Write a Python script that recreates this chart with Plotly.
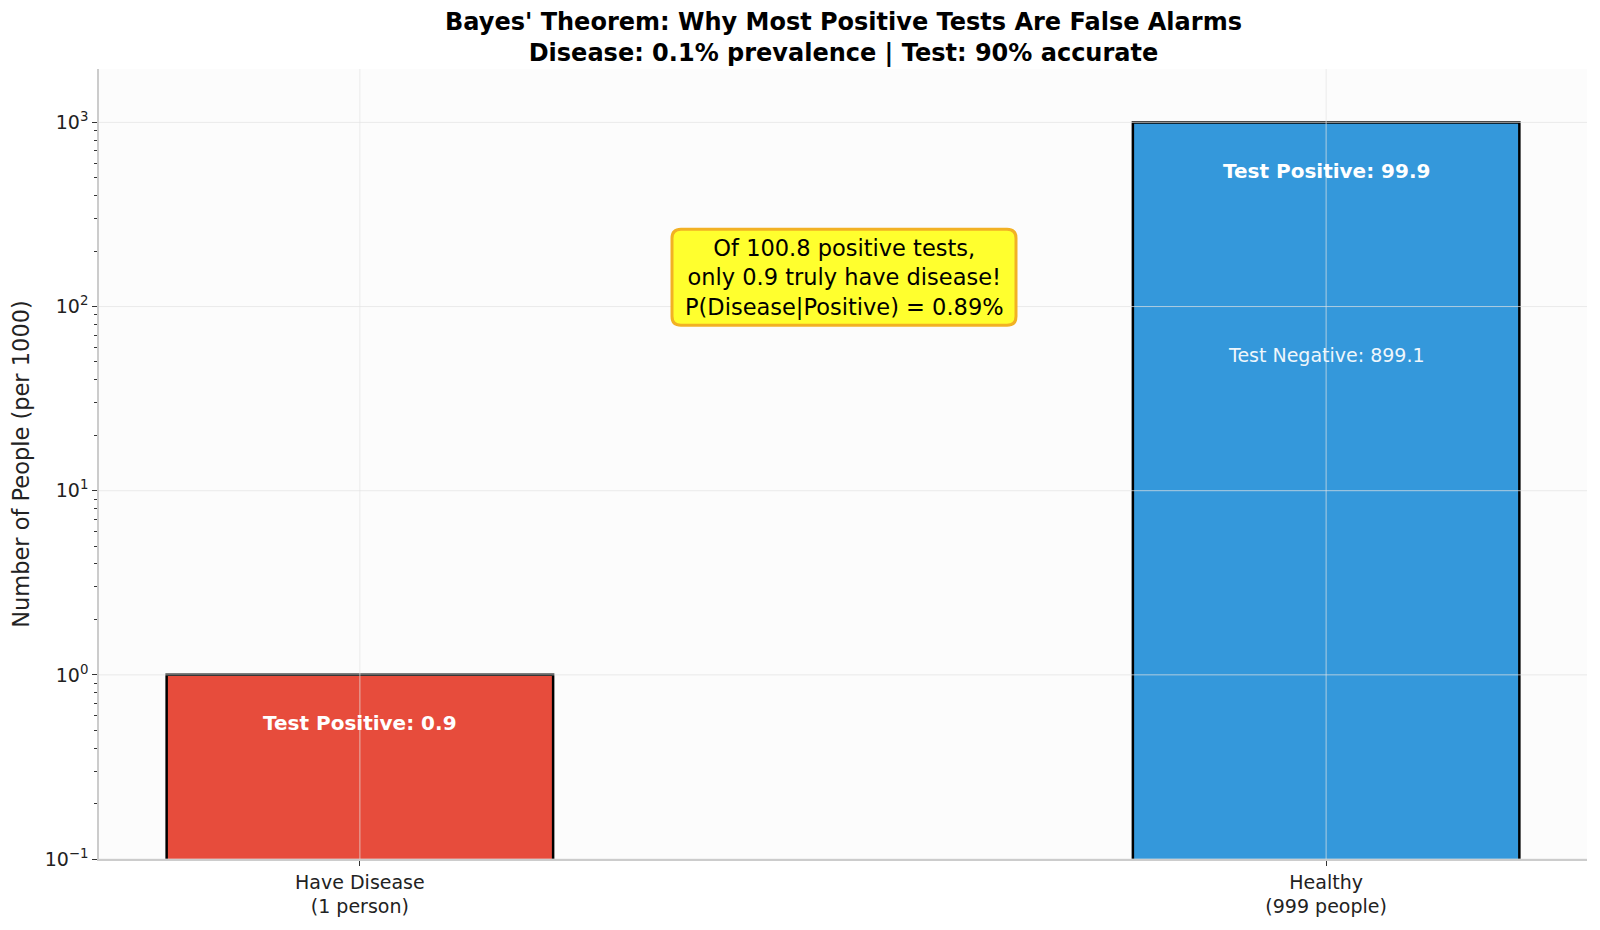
import math
import plotly.graph_objects as go

# data
categories = ["Have Disease<br>(1 person)", "Healthy<br>(999 people)"]
totals = [1, 999]
test_positive = [0.9, 99.9]
test_negative = [0.1, 899.1]
bar_colors = ["#e74c3c", "#3498db"]

ytick_vals = [0.1, 1, 10, 100, 1000]
ytick_text = ["10<sup>−1</sup>", "10<sup>0</sup>", "10<sup>1</sup>", "10<sup>2</sup>", "10<sup>3</sup>"]
minor_vals = [m * 10.0**e for e in range(-1, 3) for m in range(2, 10)] + [2000]

xs = list(range(len(categories)))
FONT = "DejaVu Sans"

fig = go.Figure()
fig.add_trace(
    go.Bar(
        x=xs,
        y=totals,
        width=0.4,
        marker=dict(color=bar_colors, line=dict(color="black", width=2.5)),
        hoverinfo="skip",
    )
)

# labels inside bars (annotation y on a log axis is given as log10)
for i, x in enumerate(xs):
    fig.add_annotation(
        x=x, y=math.log10(totals[i] / 2), xref="x", yref="y",
        text="<b>Test Positive: %s</b>" % test_positive[i],
        showarrow=False, yshift=7,
        font=dict(family=FONT, size=20, color="white"),
    )
# negative label only for healthy group
fig.add_annotation(
    x=xs[1], y=math.log10(test_positive[1] / 2), xref="x", yref="y",
    text="Test Negative: %s" % test_negative[1],
    showarrow=False, yshift=7,
    font=dict(family=FONT, size=19, color="#eef6fc"),
)

# grid drawn on top of bars like the original
grid = "rgba(226,226,226,0.7)"
for v in ytick_vals:
    fig.add_shape(type="line", xref="x domain", yref="y", x0=0, x1=1, y0=v, y1=v,
                  line=dict(color=grid, width=1), layer="above")
for x in xs:
    fig.add_shape(type="line", xref="x", yref="y domain", x0=x, x1=x, y0=0, y1=1,
                  line=dict(color=grid, width=1), layer="above")

# summary callout: rounded box (pixel sized) + text
box_x, box_y = 0.5, 150
w, h, r, dx, dy = 172, 48, 9, 1, -3
box_path = (
    f"M {-w + r + dx},{-h + dy} L {w - r + dx},{-h + dy} Q {w + dx},{-h + dy} {w + dx},{-h + r + dy} "
    f"L {w + dx},{h - r + dy} Q {w + dx},{h + dy} {w - r + dx},{h + dy} "
    f"L {-w + r + dx},{h + dy} Q {-w + dx},{h + dy} {-w + dx},{h - r + dy} "
    f"L {-w + dx},{-h + r + dy} Q {-w + dx},{-h + dy} {-w + r + dx},{-h + dy} Z"
)
fig.add_shape(
    type="path", xref="x", yref="y", xsizemode="pixel", ysizemode="pixel",
    xanchor=box_x, yanchor=box_y, path=box_path,
    fillcolor="#ffff2e", line=dict(color="#f2b124", width=3), layer="above",
)

n_pos = sum(test_positive)
p_disease = test_positive[0] / n_pos * 100
fig.add_annotation(
    x=box_x, y=math.log10(box_y), xref="x", yref="y", xshift=dx, yshift=dy,
    text="Of %.1f positive tests,<br>only %.1f truly have disease!<br>P(Disease|Positive) = %.2f%%"
    % (n_pos, test_positive[0], p_disease),
    showarrow=False, align="center",
    font=dict(family=FONT, size=22.5, color="black"),
)

# title as a paper annotation
fig.add_annotation(
    x=0.5, y=1.04, xref="paper", yref="paper", xanchor="center", yanchor="middle",
    text="<b>Bayes' Theorem: Why Most Positive Tests Are False Alarms<br>Disease: 0.1% prevalence | Test: 90% accurate</b>",
    showarrow=False, align="center",
    font=dict(family=FONT, size=24, color="black"),
)

# page body has an 8px margin, so the figure is 16px smaller than the window
fig.update_layout(
    width=1584,
    height=914,
    margin=dict(l=91, r=5, t=61, b=59),
    paper_bgcolor="white",
    plot_bgcolor="#fcfcfc",
    showlegend=False,
    font=dict(family=FONT, color="#222"),
)
fig.update_xaxes(
    range=[-0.27, 1.27],
    tickvals=xs, ticktext=categories,
    showgrid=False, zeroline=False,
    showline=True, linecolor="#cccccc", linewidth=1.5,
    ticks="outside", ticklen=5, tickcolor="#333",
    tickfont=dict(family=FONT, size=19, color="#222"),
)
fig.update_yaxes(
    type="log",
    range=[-1, 3.29],
    tickvals=ytick_vals, ticktext=ytick_text,
    showgrid=False, zeroline=False,
    showline=True, linecolor="#cccccc", linewidth=1.5,
    ticks="outside", ticklen=5, tickcolor="#333",
    tickfont=dict(family=FONT, size=19, color="#222"),
    minor=dict(tickvals=minor_vals, ticks="outside", ticklen=3, tickcolor="#333", showgrid=False),
    title=dict(text="Number of People (per 1000)", font=dict(family=FONT, size=22.5, color="#222"), standoff=13),
)

fig.write_html("out.html")
